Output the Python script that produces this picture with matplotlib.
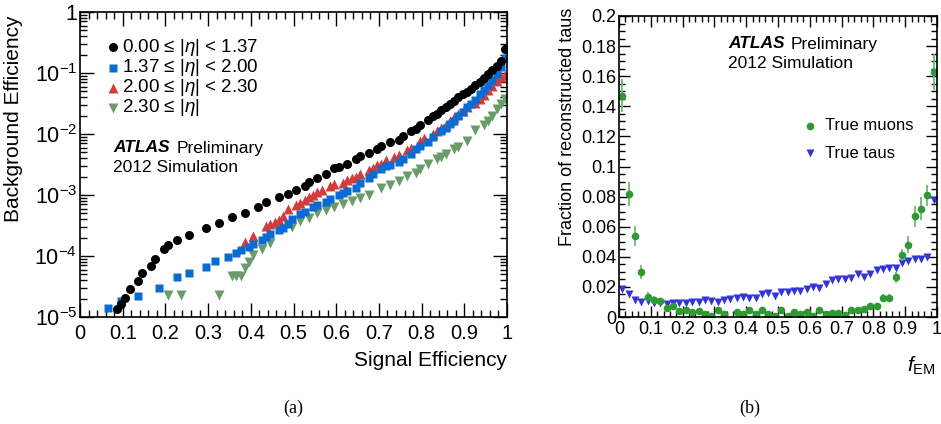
import numpy as np
import matplotlib
matplotlib.use("Agg")
import matplotlib.pyplot as plt
from matplotlib.ticker import MultipleLocator, LogLocator, FuncFormatter, NullFormatter

plt.rcParams['font.family'] = ['Liberation Sans', 'DejaVu Sans']
plt.rcParams['mathtext.fontset'] = 'custom'
plt.rcParams['mathtext.rm'] = 'Liberation Sans'
plt.rcParams['mathtext.it'] = 'Liberation Sans:italic'
plt.rcParams['mathtext.bf'] = 'Liberation Sans:bold'

# ---- (a) background vs signal efficiency, per |eta| bin ----
sig_eta1 = [0.086, 0.096, 0.106, 0.116, 0.136, 0.146, 0.166, 0.176, 0.196, 0.206,
            0.226, 0.256, 0.296, 0.326, 0.356, 0.386, 0.416, 0.436, 0.466, 0.486,
            0.506, 0.526, 0.536, 0.556, 0.576, 0.596, 0.606, 0.626, 0.646, 0.656,
            0.676, 0.696, 0.706, 0.726, 0.746, 0.756, 0.776, 0.786, 0.796, 0.816,
            0.826, 0.836, 0.846, 0.856, 0.866, 0.876, 0.886, 0.896, 0.906, 0.916,
            0.926, 0.936, 0.946, 0.956, 0.966, 0.976, 0.986, 0.996]
bkg_eta1 = [1.34e-5, 1.64e-5, 2.08e-5, 2.93e-5, 3.92e-5, 5.31e-5, 6.84e-5, 9.04e-5, 1.29e-4, 1.52e-4,
            1.86e-4, 2.24e-4, 2.83e-4, 3.53e-4, 4.34e-4, 5.15e-4, 6.31e-4, 7.62e-4, 9.2e-4, 1.05e-3,
            1.21e-3, 1.41e-3, 1.64e-3, 1.89e-3, 2.19e-3, 2.75e-3, 2.90e-3, 3.28e-3, 3.92e-3, 4.34e-3,
            4.80e-3, 5.58e-3, 6.34e-3, 7.38e-3, 8.07e-3, 9.40e-3, 1.11e-2, 1.22e-2, 1.41e-2, 1.72e-2,
            1.95e-2, 2.16e-2, 2.43e-2, 2.75e-2, 3.13e-2, 3.54e-2, 4.02e-2, 4.45e-2, 4.90e-2, 5.50e-2,
            6.24e-2, 7.24e-2, 8.32e-2, 9.55e-2, 0.110, 0.129, 0.155, 0.243]

sig_eta2 = [0.065, 0.096, 0.136, 0.186, 0.226, 0.256, 0.296, 0.316, 0.346, 0.366,
            0.376, 0.396, 0.406, 0.426, 0.436, 0.446, 0.466, 0.476, 0.486, 0.496,
            0.516, 0.526, 0.546, 0.556, 0.576, 0.586, 0.606, 0.616, 0.626, 0.646,
            0.656, 0.676, 0.686, 0.706, 0.716, 0.726, 0.746, 0.756, 0.776, 0.786,
            0.796, 0.816, 0.826, 0.846, 0.856, 0.866, 0.876, 0.886, 0.896, 0.906,
            0.916, 0.926, 0.936, 0.946, 0.956, 0.966, 0.976, 0.986, 0.996]
bkg_eta2 = [1.43e-5, 1.81e-5, 2.22e-5, 3.01e-5, 4.45e-5, 5.18e-5, 6.50e-5, 8.28e-5, 9.75e-5, 1.14e-4,
            1.24e-4, 1.39e-4, 1.60e-4, 1.84e-4, 2.06e-4, 2.33e-4, 2.69e-4, 2.90e-4, 3.33e-4, 4.02e-4,
            4.80e-4, 5.25e-4, 6.26e-4, 6.84e-4, 7.59e-4, 8.49e-4, 1.01e-3, 1.06e-3, 1.16e-3, 1.32e-3,
            1.58e-3, 1.91e-3, 2.19e-3, 2.65e-3, 3.01e-3, 3.16e-3, 3.50e-3, 3.87e-3, 4.68e-3, 5.66e-3,
            6.43e-3, 7.48e-3, 8.81e-3, 1.14e-2, 1.26e-2, 1.46e-2, 1.66e-2, 2.00e-2, 2.28e-2, 2.75e-2,
            3.13e-2, 3.63e-2, 4.45e-2, 5.18e-2, 6.26e-2, 7.76e-2, 9.75e-2, 0.126, 0.178]

sig_eta3 = [0.386, 0.406, 0.436, 0.446, 0.456, 0.466, 0.476, 0.486, 0.506, 0.516,
            0.526, 0.536, 0.546, 0.556, 0.566, 0.586, 0.596, 0.616, 0.626, 0.636,
            0.646, 0.656, 0.676, 0.686, 0.696, 0.706, 0.716, 0.736, 0.746, 0.766,
            0.776, 0.796, 0.806, 0.826, 0.836, 0.846, 0.856, 0.866, 0.876, 0.886,
            0.896, 0.906, 0.926, 0.936, 0.946, 0.956, 0.966, 0.976, 0.986, 0.996]
bkg_eta3 = [1.72e-4, 2.16e-4, 3.05e-4, 3.33e-4, 3.59e-4, 3.87e-4, 4.56e-4, 5.96e-4, 6.76e-4, 7.38e-4,
            8.37e-4, 9.27e-4, 1.01e-3, 1.11e-3, 1.20e-3, 1.41e-3, 1.50e-3, 1.60e-3, 1.75e-3, 1.88e-3,
            1.98e-3, 2.25e-3, 2.55e-3, 2.82e-3, 3.05e-3, 3.20e-3, 3.72e-3, 4.23e-3, 4.56e-3, 5.45e-3,
            5.87e-3, 7.76e-3, 8.59e-3, 1.00e-2, 1.14e-2, 1.26e-2, 1.43e-2, 1.62e-2, 1.88e-2, 2.14e-2,
            2.37e-2, 2.75e-2, 3.20e-2, 3.72e-2, 4.40e-2, 5.18e-2, 6.18e-2, 7.29e-2, 8.49e-2, 9.33e-2]

sig_eta4 = [0.206, 0.236, 0.326, 0.356, 0.366, 0.376, 0.386, 0.396, 0.406, 0.426,
            0.446, 0.496, 0.516, 0.536, 0.556, 0.576, 0.596, 0.616, 0.636, 0.656,
            0.676, 0.706, 0.726, 0.746, 0.766, 0.786, 0.796, 0.816, 0.836, 0.846,
            0.856, 0.876, 0.886, 0.906, 0.926, 0.946, 0.956, 0.966, 0.976, 0.986, 0.996]
bkg_eta4 = [2.33e-5, 2.33e-5, 2.33e-5, 4.74e-5, 4.74e-5, 4.74e-5, 6.27e-5, 8.07e-5, 1.04e-4, 1.29e-4,
            1.62e-4, 2.97e-4, 3.68e-4, 4.18e-4, 5.05e-4, 5.62e-4, 6.31e-4, 7.02e-4, 7.96e-4, 9.04e-4,
            1.00e-3, 1.32e-3, 1.46e-3, 1.70e-3, 2.06e-3, 2.33e-3, 2.65e-3, 3.28e-3, 3.82e-3, 4.23e-3,
            4.68e-3, 5.66e-3, 6.03e-3, 7.76e-3, 1.16e-2, 1.43e-2, 1.66e-2, 2.00e-2, 2.58e-2, 3.13e-2, 3.80e-2]

eta_labels = ["0.00 ≤ |$\\eta$| < 1.37", "1.37 ≤ |$\\eta$| < 2.00",
              "2.00 ≤ |$\\eta$| < 2.30", "2.30 ≤ |$\\eta$|"]

# ---- (b) f_EM distribution, 50 bins of width 0.02 ----
fem_centers = np.arange(50) * 0.02 + 0.01
muons_frac = [0.147, 0.082, 0.054, 0.030, 0.0134, 0.0116, 0.0105, 0.0063, 0.0076, 0.004,
              0.0045, 0.003, 0.0038, 0.0018, 0.0004, 0.0045, 0.002, np.nan, 0.003, 0.0022,
              0.0045, 0.0022, 0.0045, 0.0022, 0.0007, 0.0045, 0.0007, 0.003, 0.0022, 0.003,
              0.0007, 0.0045, 0.0022, 0.0027, 0.0027, 0.0016, 0.0045, 0.0045, 0.0054, 0.007,
              0.0076, 0.0125, 0.0125, 0.0264, 0.041, 0.048, 0.067, 0.072, 0.081, 0.163]
muons_err = [0.011, 0.008, 0.0065, 0.0045, 0.003, 0.0025, 0.0022, 0.002, 0.002, 0.0015,
             0.0015, 0.0012, 0.0012, 0.001, 0.0005, 0.0015, 0.001, 0.0, 0.0012, 0.001,
             0.0015, 0.001, 0.0015, 0.001, 0.0006, 0.0015, 0.0006, 0.0012, 0.001, 0.0012,
             0.0006, 0.0015, 0.001, 0.0012, 0.0012, 0.001, 0.0015, 0.0015, 0.0017, 0.002,
             0.002, 0.0028, 0.0028, 0.0035, 0.004, 0.0055, 0.007, 0.0075, 0.007, 0.012]
taus_frac = [0.0183, 0.0152, 0.0112, 0.010, 0.0107, 0.0094, 0.0094, 0.0085, 0.0096, 0.0094,
             0.009, 0.010, 0.010, 0.011, 0.0107, 0.010, 0.011, 0.012, 0.0123, 0.013,
             0.0127, 0.0127, 0.015, 0.016, 0.0139, 0.0168, 0.0168, 0.0172, 0.0174, 0.0185,
             0.020, 0.0194, 0.0217, 0.0246, 0.025, 0.0253, 0.026, 0.0286, 0.0268, 0.0284,
             0.0313, 0.032, 0.0328, 0.0326, 0.036, 0.0375, 0.0384, 0.0387, 0.040, 0.078]

W, H = 941, 424
fig = plt.figure(figsize=(W / 100, H / 100), dpi=100)


def fx(x):
    return x / W


def fy(y):
    return 1 - y / H


def root_style(ax, major_len, minor_len):
    ax.tick_params(which='both', direction='in', top=True, right=True, width=1.0, colors='black')
    ax.tick_params(which='major', length=major_len)
    ax.tick_params(which='minor', length=minor_len)
    for s in ax.spines.values():
        s.set_linewidth(1.2)


c_eta1, c_eta2, c_eta3, c_eta4 = 'black', '#0a6cd2', '#d43c3c', '#6a9c6a'

# left panel
ax1 = fig.add_axes([fx(80), fy(317), fx(427), 305 / H])
ax1.set_yscale('log')
ax1.set_xlim(0, 1)
ax1.set_ylim(1e-5, 1)
ax1.plot(sig_eta4, bkg_eta4, 'v', color=c_eta4, ms=6.5, mec='none')
ax1.plot(sig_eta3, bkg_eta3, '^', color=c_eta3, ms=6.5, mec='none')
ax1.plot(sig_eta2, bkg_eta2, 's', color=c_eta2, ms=6.3, mec='none')
ax1.plot(sig_eta1, bkg_eta1, 'o', color=c_eta1, ms=6.5, mec='none')
root_style(ax1, 10, 5)
ax1.xaxis.set_major_locator(MultipleLocator(0.1))
ax1.xaxis.set_minor_locator(MultipleLocator(0.02))
ax1.xaxis.set_major_formatter(FuncFormatter(lambda v, p: '%g' % round(v, 2)))
ax1.yaxis.set_major_locator(LogLocator(base=10, numticks=10))
ax1.yaxis.set_minor_locator(LogLocator(base=10, subs=np.arange(2, 10), numticks=20))
ax1.yaxis.set_minor_formatter(NullFormatter())
ax1.yaxis.set_major_formatter(FuncFormatter(
    lambda v, p: '1' if v >= 0.99 else r'$\mathdefault{10^{%d}}$' % round(np.log10(v))))
ax1.tick_params(axis='x', labelsize=14.5, pad=5)
ax1.tick_params(axis='y', labelsize=15.5, pad=2)

leg_y = [47, 68, 88, 108]
leg_m = [('o', c_eta1, 6.5), ('s', c_eta2, 6.3), ('^', c_eta3, 6.5), ('v', c_eta4, 6.5)]
for yy, (m, c, s), lab in zip(leg_y, leg_m, eta_labels):
    fig.lines.append(plt.Line2D([fx(113)], [fy(yy)], marker=m, color=c, ms=s, mec='none',
                                transform=fig.transFigure))
    fig.text(fx(122), fy(yy), lab, fontsize=13.5, va='center', ha='left')

fig.text(fx(113), fy(148), 'ATLAS', fontsize=12.5, fontweight='bold', style='italic', va='center')
fig.text(fx(177), fy(148), 'Preliminary', fontsize=12.5, va='center')
fig.text(fx(113), fy(167), '2012 Simulation', fontsize=12.5, va='center')

fig.text(fx(507), fy(361), 'Signal Efficiency', fontsize=15, ha='right', va='center')
fig.text(fx(14), fy(16), 'Background Efficiency', fontsize=15, rotation=90, ha='center', va='top')

# right panel
ax2 = fig.add_axes([fx(619), fy(317), fx(318), 301 / H])
ax2.set_xlim(0, 1)
ax2.set_ylim(0, 0.2)
ax2.plot(fem_centers, taus_frac, 'v', color='#3434d8', ms=6, mec='none')
ax2.errorbar(fem_centers, muons_frac, yerr=muons_err, fmt='o', color='#2f9a34', ecolor='#6dbb6d',
             elinewidth=1.3, ms=5.5, mec='none', capsize=0)
root_style(ax2, 8, 4)
ax2.xaxis.set_major_locator(MultipleLocator(0.1))
ax2.xaxis.set_minor_locator(MultipleLocator(0.02))
ax2.yaxis.set_major_locator(MultipleLocator(0.02))
ax2.yaxis.set_minor_locator(MultipleLocator(0.005))
ax2.xaxis.set_major_formatter(FuncFormatter(lambda v, p: '%g' % round(v, 2)))
ax2.yaxis.set_major_formatter(FuncFormatter(lambda v, p: '%g' % round(v, 3)))
ax2.tick_params(axis='x', labelsize=13, pad=3)
ax2.tick_params(axis='y', labelsize=13, pad=2)

fig.text(fx(728), fy(44), 'ATLAS', fontsize=12.5, fontweight='bold', style='italic', va='center')
fig.text(fx(791), fy(44), 'Preliminary', fontsize=12.5, va='center')
fig.text(fx(728), fy(63), '2012 Simulation', fontsize=12.5, va='center')

fig.lines.append(plt.Line2D([fx(810)], [fy(126)], marker='o', color='#2f9a34', ms=5.5, mec='none',
                            transform=fig.transFigure))
fig.text(fx(825), fy(126), 'True muons', fontsize=12, va='center')
fig.lines.append(plt.Line2D([fx(810)], [fy(153)], marker='v', color='#3434d8', ms=6, mec='none',
                            transform=fig.transFigure))
fig.text(fx(825), fy(153), 'True taus', fontsize=12, va='center')

fig.text(fx(567), fy(8), 'Fraction of reconstructed taus', fontsize=13, rotation=90,
         ha='center', va='top')
fig.text(fx(936), fy(366), r'$\it{f}_{\rm{EM}}$', fontsize=15, ha='right', va='center')

# captions
fig.text(fx(293), fy(408), '(a)', fontsize=13, family='Liberation Serif', ha='center', va='center')
fig.text(fx(750), fy(408), '(b)', fontsize=13, family='Liberation Serif', ha='center', va='center')

fig.savefig('out.png', dpi=100)
